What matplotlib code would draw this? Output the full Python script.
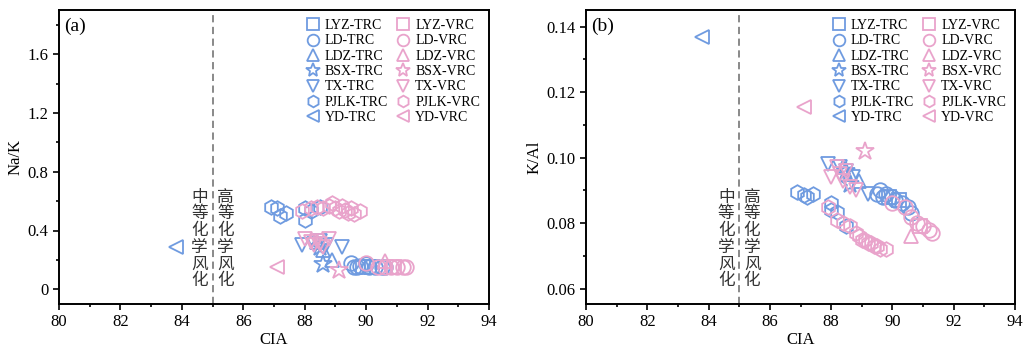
import numpy as np
import matplotlib
matplotlib.use('Agg')
from matplotlib import pyplot as plt
from matplotlib.ticker import MultipleLocator

plt.rcParams['font.family'] = ['Liberation Serif', 'Noto Sans CJK SC']
plt.rcParams['mathtext.fontset'] = 'stix'

blue = '#6f9be0'
pink = '#e9a3cb'

# CIA, Na/K, K/Al for each group
lyz_trc_cia = [89.9, 90.2]
lyz_trc_nak = [0.15, 0.15]
lyz_trc_kal = [0.088, 0.087]

ld_trc_cia = [89.5, 89.6, 89.7, 89.8, 90.0, 90.1, 90.3, 90.5, 90.6]
ld_trc_nak = [0.18, 0.15, 0.15, 0.16, 0.17, 0.15, 0.15, 0.15, 0.15]
ld_trc_kal = [0.089, 0.090, 0.088, 0.089, 0.088, 0.087, 0.086, 0.085, 0.083]

ldz_trc_cia = [88.9, 88.6, 88.4]
ldz_trc_nak = [0.20, 0.27, 0.32]
ldz_trc_kal = [0.093, 0.095, 0.097]

bsx_trc_cia = [88.6, 88.5]
bsx_trc_nak = [0.17, 0.29]
bsx_trc_kal = [0.092, 0.096]

tx_trc_cia = [87.9, 88.3, 88.7, 89.2, 88.5]
tx_trc_nak = [0.30, 0.31, 0.30, 0.29, 0.33]
tx_trc_kal = [0.098, 0.097, 0.094, 0.089, 0.096]

pjlk_trc_cia = [86.9, 87.1, 87.2, 87.4, 88.0, 88.0, 88.2, 88.5]
pjlk_trc_nak = [0.56, 0.55, 0.50, 0.52, 0.55, 0.47, 0.53, 0.56]
pjlk_trc_kal = [0.0895, 0.0885, 0.088, 0.089, 0.0862, 0.084, 0.0835, 0.079]

yd_trc_cia = [83.8]
yd_trc_nak = [0.29]
yd_trc_kal = [0.137]

lyz_vrc_cia = [90.9]
lyz_vrc_nak = [0.15]
lyz_vrc_kal = [0.079]

ld_vrc_cia = [90.0, 90.4, 90.6, 90.8, 91.0, 91.2, 91.3]
ld_vrc_nak = [0.18, 0.15, 0.15, 0.15, 0.15, 0.15, 0.15]
ld_vrc_kal = [0.086, 0.085, 0.082, 0.080, 0.079, 0.078, 0.077]

ldz_vrc_cia = [90.6]
ldz_vrc_nak = [0.19]
ldz_vrc_kal = [0.076]

bsx_vrc_cia = [89.1]
bsx_vrc_nak = [0.13]
bsx_vrc_kal = [0.102]

tx_vrc_cia = [88.0, 88.2, 88.3, 88.4, 88.5, 88.6, 88.8]
tx_vrc_nak = [0.34, 0.32, 0.30, 0.33, 0.31, 0.29, 0.34]
tx_vrc_kal = [0.094, 0.097, 0.095, 0.093, 0.096, 0.091, 0.090]

pjlk_vrc_cia = [87.9, 88.2, 88.4, 88.6, 88.8, 88.9, 89.0, 89.1, 89.2, 89.3, 89.4, 89.5, 89.6, 89.8]
pjlk_vrc_nak = [0.53, 0.55, 0.56, 0.55, 0.57, 0.59, 0.55, 0.53, 0.57, 0.54, 0.52, 0.55, 0.51, 0.53]
pjlk_vrc_kal = [0.085, 0.081, 0.080, 0.079, 0.077, 0.076, 0.075, 0.075, 0.074, 0.074, 0.073, 0.073, 0.072, 0.072]

yd_vrc_cia = [87.1]
yd_vrc_nak = [0.15]
yd_vrc_kal = [0.1155]

groups = [
    ('LYZ-TRC', 's', blue, lyz_trc_cia, lyz_trc_nak, lyz_trc_kal),
    ('LD-TRC', 'o', blue, ld_trc_cia, ld_trc_nak, ld_trc_kal),
    ('LDZ-TRC', '^', blue, ldz_trc_cia, ldz_trc_nak, ldz_trc_kal),
    ('BSX-TRC', '*', blue, bsx_trc_cia, bsx_trc_nak, bsx_trc_kal),
    ('TX-TRC', 'v', blue, tx_trc_cia, tx_trc_nak, tx_trc_kal),
    ('PJLK-TRC', 'h', blue, pjlk_trc_cia, pjlk_trc_nak, pjlk_trc_kal),
    ('YD-TRC', '<', blue, yd_trc_cia, yd_trc_nak, yd_trc_kal),
    ('LYZ-VRC', 's', pink, lyz_vrc_cia, lyz_vrc_nak, lyz_vrc_kal),
    ('LD-VRC', 'o', pink, ld_vrc_cia, ld_vrc_nak, ld_vrc_kal),
    ('LDZ-VRC', '^', pink, ldz_vrc_cia, ldz_vrc_nak, ldz_vrc_kal),
    ('BSX-VRC', '*', pink, bsx_vrc_cia, bsx_vrc_nak, bsx_vrc_kal),
    ('TX-VRC', 'v', pink, tx_vrc_cia, tx_vrc_nak, tx_vrc_kal),
    ('PJLK-VRC', 'h', pink, pjlk_vrc_cia, pjlk_vrc_nak, pjlk_vrc_kal),
    ('YD-VRC', '<', pink, yd_vrc_cia, yd_vrc_nak, yd_vrc_kal),
]

fig = plt.figure(figsize=(10.25, 3.51), dpi=100)
ax1 = fig.add_axes([59/1025, 47/351, 430/1025, 294/351])
ax2 = fig.add_axes([586/1025, 47/351, 429/1025, 294/351])

def draw(ax, col, ylabel, ylim, major, minor, fmt, tag):
    for g in groups:
        ms = 13.5 if g[1] == '*' else 10.5
        ax.plot(g[3], g[col], linestyle='none', marker=g[1], ms=ms,
                mfc='none', mec=g[2], mew=1.3, label=g[0])
    ax.axvline(85, color='#808080', ls=(0, (4, 2.5)), lw=1.3)
    ax.set_xlim(80, 94)
    ax.set_ylim(*ylim)
    ax.xaxis.set_major_locator(MultipleLocator(2))
    ax.xaxis.set_minor_locator(MultipleLocator(1))
    ax.yaxis.set_major_locator(MultipleLocator(major))
    ax.yaxis.set_minor_locator(MultipleLocator(minor))
    ax.yaxis.set_major_formatter(fmt)
    ax.tick_params(which='both', direction='out', top=False, right=False, labelsize=12, width=1.2)
    ax.tick_params(which='major', length=4)
    ax.tick_params(which='minor', length=2.5)
    for s in ax.spines.values():
        s.set_linewidth(1.4)
    ax.set_xlabel('CIA', fontsize=12, labelpad=1)
    ax.set_ylabel(ylabel, fontsize=12, labelpad=3)
    ax.text(0.012, 0.975, tag, transform=ax.transAxes, fontsize=14, va='top', ha='left')
    ax.legend(ncol=2, loc='upper right', frameon=False, fontsize=10,
              handlelength=1.0, handletextpad=0.35, columnspacing=0.6,
              labelspacing=0.17, borderaxespad=0.25, markerscale=0.8)
    yb = ylim[0] + 0.05 * (ylim[1] - ylim[0])
    ax.text(84.85, yb, '中\n等\n化\n学\n风\n化', family='Noto Sans CJK SC', fontsize=12,
            color='#333333', ha='right', va='bottom', linespacing=0.98)
    ax.text(85.15, yb, '高\n等\n化\n学\n风\n化', family='Noto Sans CJK SC', fontsize=12,
            color='#333333', ha='left', va='bottom', linespacing=0.98)

draw(ax1, 4, 'Na/K', (-0.1, 1.9), 0.4, 0.2,
     plt.FuncFormatter(lambda v, p: '0' if abs(v) < 1e-9 else '%.1f' % v), '(a)')
draw(ax2, 5, 'K/Al', (0.0553, 0.1451), 0.02, 0.01,
     plt.FuncFormatter(lambda v, p: '%.2f' % v), '(b)')

fig.savefig('out.png', dpi=100)
